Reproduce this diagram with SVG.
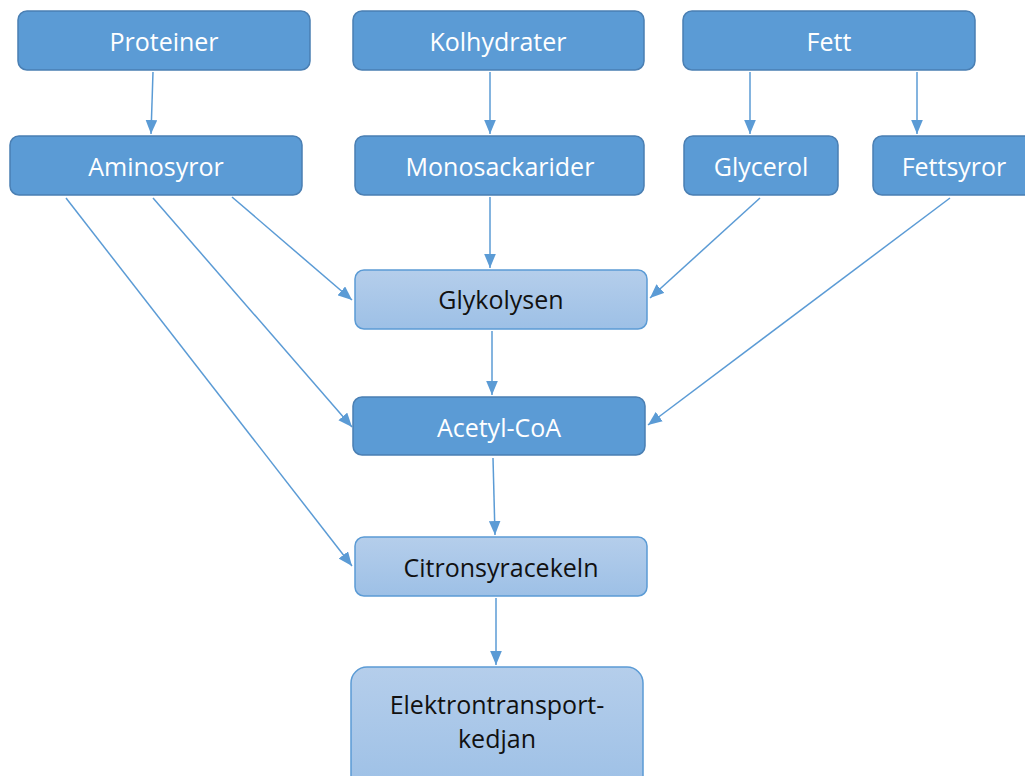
<svg xmlns="http://www.w3.org/2000/svg" width="1025" height="776" viewBox="0 0 1025 776">
<defs>
<linearGradient id="lg" x1="0" y1="0" x2="0" y2="1">
<stop offset="0" stop-color="#B5CEEB"/>
<stop offset="1" stop-color="#9DC0E6"/>
</linearGradient>
<marker id="ah2" viewBox="0 0 12 10" refX="12" refY="5" markerWidth="14" markerHeight="12" markerUnits="userSpaceOnUse" orient="auto">
<path d="M0,0 L12,5 L0,10 Z" fill="#5B9BD5"/>
</marker>
</defs>
<style>
.dk{fill:#5B9BD5;stroke:#4A7FB3;stroke-width:1.5}
.lt{fill:url(#lg);stroke:#5B9BD5;stroke-width:1.5}
.t{font-family:"Open Sans","Liberation Sans",sans-serif;font-size:25px;text-anchor:middle;dominant-baseline:central}
.tw{fill:#FFFFFF}
.tb{fill:#111111}
.c{stroke:#5B9BD5;stroke-width:1.5;fill:none;marker-end:url(#ah2)}
</style>
<rect width="1025" height="776" fill="#FFFFFF"/>
<g id="connectors">
<line class="c" x1="153" y1="72" x2="151" y2="134"/>
<line class="c" x1="490" y1="72" x2="490" y2="134"/>
<line class="c" x1="750" y1="72" x2="750" y2="134"/>
<line class="c" x1="917" y1="72" x2="917" y2="134"/>
<line class="c" x1="232" y1="197" x2="352" y2="300"/>
<line class="c" x1="153" y1="198" x2="352" y2="427"/>
<line class="c" x1="66" y1="198" x2="352" y2="566"/>
<line class="c" x1="490" y1="197" x2="490" y2="268"/>
<line class="c" x1="760" y1="198" x2="650" y2="298"/>
<line class="c" x1="950" y1="198" x2="648" y2="425"/>
<line class="c" x1="492" y1="331" x2="492" y2="395"/>
<line class="c" x1="493" y1="458" x2="495" y2="535"/>
<line class="c" x1="496" y1="598" x2="496" y2="665"/>
</g>
<g id="proteiner"><rect class="dk" x="18" y="11" width="292" height="59" rx="9"/><text class="t tw" x="164" y="41">Proteiner</text></g>
<g id="kolhydrater"><rect class="dk" x="353" y="11" width="291" height="59" rx="9"/><text class="t tw" x="498" y="41">Kolhydrater</text></g>
<g id="fett"><rect class="dk" x="683" y="11" width="292" height="59" rx="9"/><text class="t tw" x="829" y="41">Fett</text></g>
<g id="aminosyror"><rect class="dk" x="10" y="136" width="292" height="59" rx="9"/><text class="t tw" x="156" y="166">Aminosyror</text></g>
<g id="monosackarider"><rect class="dk" x="355" y="136" width="289" height="59" rx="9"/><text class="t tw" x="500" y="166">Monosackarider</text></g>
<g id="glycerol"><rect class="dk" x="684" y="136" width="154" height="59" rx="9"/><text class="t tw" x="761" y="166">Glycerol</text></g>
<g id="fettsyror"><rect class="dk" x="873" y="136" width="160" height="59" rx="9"/><text class="t tw" x="954" y="166">Fettsyror</text></g>
<g id="glykolysen"><rect class="lt" x="355" y="270" width="292" height="59" rx="9"/><text class="t tb" x="501" y="299">Glykolysen</text></g>
<g id="acetyl-coa"><rect class="dk" x="353" y="397" width="292" height="58" rx="9"/><text class="t tw" x="499" y="427">Acetyl-CoA</text></g>
<g id="citronsyracekeln"><rect class="lt" x="355" y="537" width="292" height="59" rx="9"/><text class="t tb" x="501" y="567">Citronsyracekeln</text></g>
<g id="elektrontransportkedjan"><rect class="lt" x="351" y="667" width="292" height="125" rx="16"/><text class="t tb" x="497" y="704">Elektrontransport-</text><text class="t tb" x="497" y="738">kedjan</text></g>
</svg>
